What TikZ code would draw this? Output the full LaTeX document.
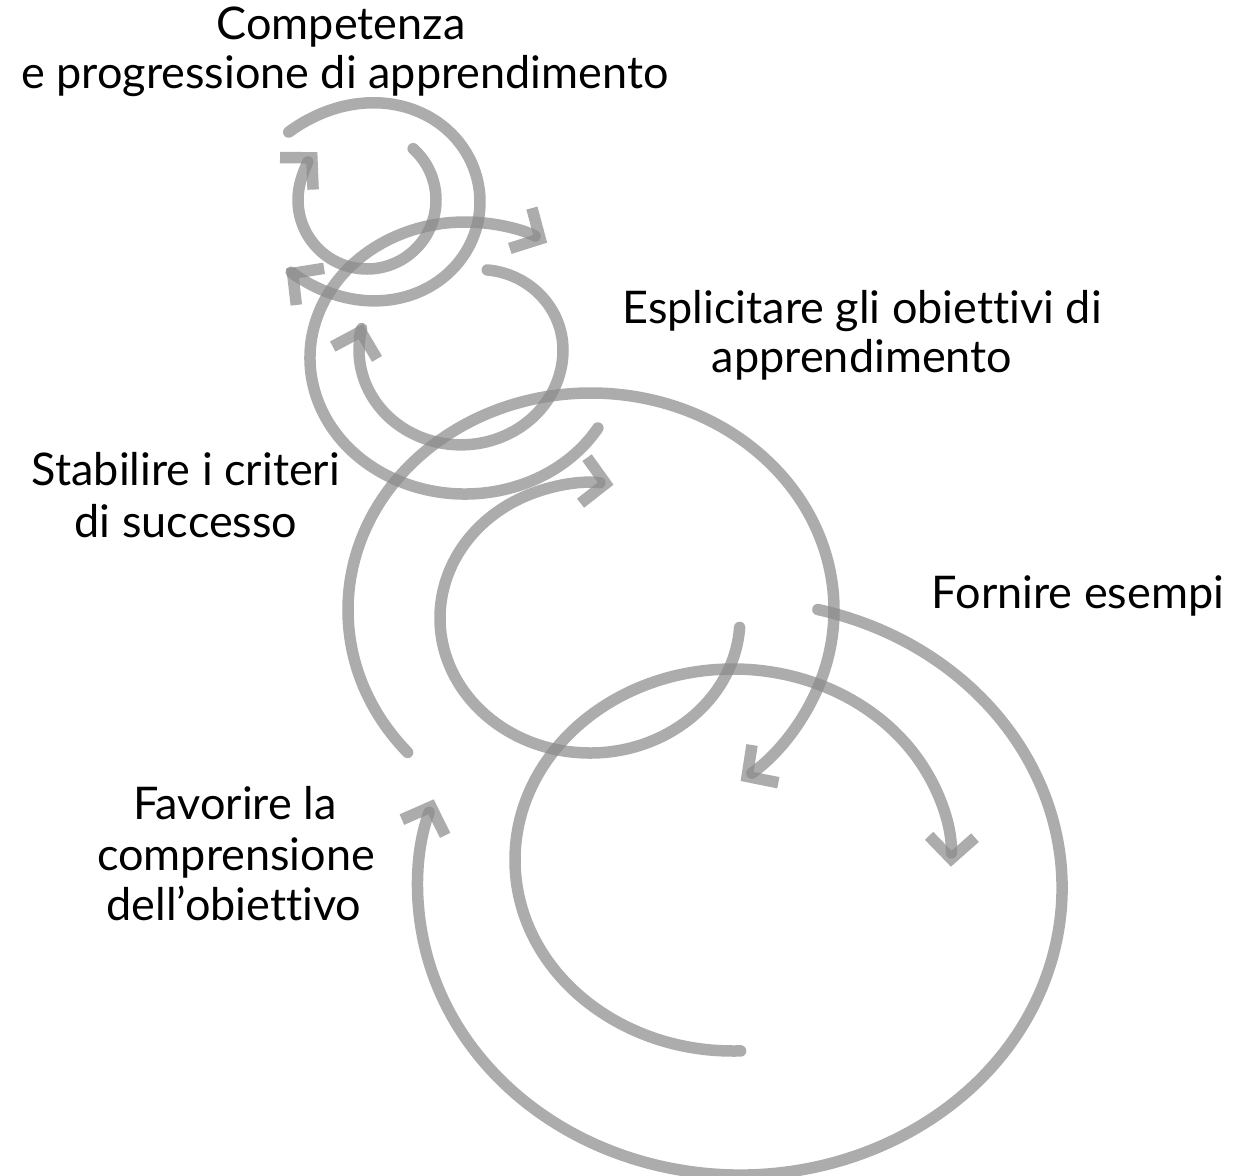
\documentclass[tikz,border=0pt]{standalone}
\usepackage{fontspec}
\setmainfont{Lato}[Ligatures=NoCommon]
\usetikzlibrary{arrows.meta}
\begin{document}
\begin{tikzpicture}[x=1pt,y=-1pt,
  declare function={uA(\t)=(\t-361)/145; rA(\t)=95+24*uA(\t)*uA(\t)*uA(\t)*uA(\t);
                    mE(\t)=min(\t-360,0)/73; rE(\t)=102-12*mE(\t)*mE(\t);},
  arc/.style={draw=black!46, draw opacity=0.7, line width=11.5pt, line cap=round, line join=round},
  arr/.style={arc, -{Straight Barb[sharp, length=22pt, width=46pt]}},
  lbl/.style={font=\fontsize{45}{54}\selectfont, anchor=base, inner sep=0pt}]
\useasboundingbox (0,0) rectangle (1235,1176);
\fill[white] (0,0) rectangle (1235,1176);

% labels
\node[lbl] (t1a) at (341,39) {Competenza};
\node[lbl] (t1b) at (345,88) {e progressione di apprendimento};
\node[lbl] (t2a) at (862,323) {Esplicitare gli obiettivi di};
\node[lbl] (t2b) at (862,372) {apprendimento};
\node[lbl] (t3a) at (186,485) {Stabilire i criteri};
\node[lbl] (t3b) at (186,537) {di successo};
\node[lbl] (t4) at (1078,608) {Fornire esempi};
\node[lbl] (t5a) at (235,819) {Favorire la};
\node[lbl] (t5b) at (236,870) {comprensione};
\node[lbl] (t5c) at (234,920) {dell'obiettivo};

% centres
\coordinate (cA) at (385,202);
\coordinate (cB) at (367,200);
\coordinate (cC) at (465,358);
\coordinate (cE) at (461,350);
\coordinate (cF) at (590,618);
\coordinate (cG) at (591,610);
\coordinate (cI) at (740,888);
\coordinate (cJ) at (733,860);

% arc A (top outer, widening at both ends)
\draw[arr] plot[domain=216:506, samples=60, smooth, variable=\t]
  ({385+rA(\t)*cos(\t)}, {202+rA(\t)*sin(\t)});
% arc B (top inner)
\draw[arr] (cB) ++(312:69) arc[start angle=312, end angle=584, radius=69];
% arc C
\draw[arr] (cC) ++(31:155 and 136) arc[start angle=31, end angle=302, x radius=155, y radius=136];
% arc E
\draw[arr] plot[domain=287:556, samples=60, smooth, variable=\t]
  ({461+rE(\t)*cos(\t)}, {350+0.93*rE(\t)*sin(\t)});
% arc F
\draw[arr] (cF) ++(4:150 and 135) arc[start angle=4, end angle=279, x radius=150, y radius=135];
% arc G
\draw[arr] (cG) ++(139:243 and 217) arc[start angle=139, end angle=412, x radius=243, y radius=217];
% arc I (big outer)
\draw[arr] (cI) ++(284:322 and 287) arc[start angle=284, end angle=558, x radius=322, y radius=287];
% arc J (bottom inner)
\draw[arr] (cJ) ++(88:218 and 191) arc[start angle=88, end angle=362, x radius=218, y radius=191];
\end{tikzpicture}
\end{document}
